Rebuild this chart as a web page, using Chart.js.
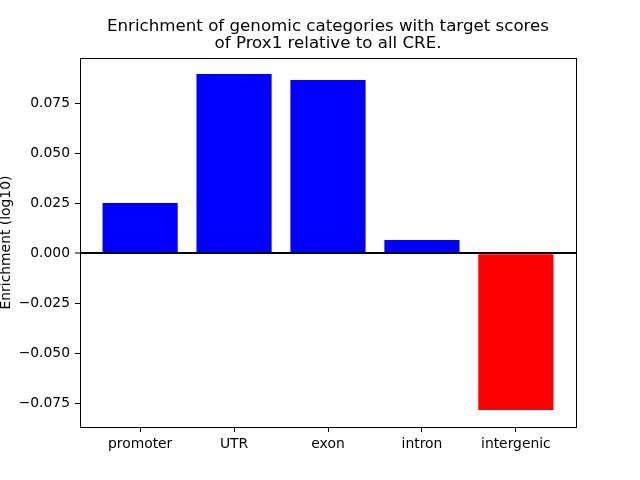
<!DOCTYPE html>
<html><head><meta charset="utf-8">
<script src="https://cdn.jsdelivr.net/npm/chart.js@4"></script>
<style>html,body{margin:0;padding:0;background:#fff}</style>
</head><body>
<canvas id="c" width="640" height="480"></canvas>
<script>
const categories = ['promoter', 'UTR', 'exon', 'intron', 'intergenic'];
const enrichment = [0.0252, 0.0897, 0.0867, 0.0067, -0.0784];
const yTicks = [-0.075, -0.05, -0.025, 0, 0.025, 0.05, 0.075];
const titleLines = ['Enrichment of genomic categories with target scores', 'of Prox1 relative to all CRE.'];
const yLabel = 'Enrichment (log10)';
const posColor = '#0000ff';
const negColor = '#ff0000';

Chart.defaults.font.family = 'DejaVu Sans';
Chart.defaults.color = '#000';

const framePlugin = {
  id: 'frame',
  afterDraw(chart) {
    const a = chart.chartArea, ctx = chart.ctx;
    ctx.save();
    ctx.strokeStyle = '#000';
    ctx.lineWidth = 1;
    ctx.strokeRect(Math.round(a.left) + 0.5, Math.round(a.top) + 0.5,
      Math.round(a.right - a.left), Math.round(a.bottom - a.top));
    ctx.restore();
  }
};

new Chart(document.getElementById('c'), {
  type: 'bar',
  data: {
    datasets: [{
      data: categories.map((c, i) => ({ x: i, y: enrichment[i] })),
      backgroundColor: enrichment.map(v => v >= 0 ? posColor : negColor),
      borderWidth: 0,
      categoryPercentage: 1.0,
      barPercentage: 0.8
    }]
  },
  options: {
    responsive: false,
    animation: false,
    devicePixelRatio: 1,
    layout: { padding: { left: 16, right: 0, top: 0, bottom: 0 } },
    plugins: {
      legend: { display: false },
      tooltip: { enabled: false },
      title: {
        display: true,
        text: titleLines,
        color: '#000',
        font: { family: 'DejaVu Sans', size: 16.67, weight: 'normal', lineHeight: 1.02 },
        padding: { top: 18.5, bottom: 5.5 }
      }
    },
    scales: {
      x: {
        type: 'linear',
        min: -0.64,
        max: 4.64,
        offset: false,
        afterBuildTicks: s => { s.ticks = categories.map((c, i) => ({ value: i })); },
        afterFit: s => { s.height = 53; },
        ticks: {
          autoSkip: false, maxRotation: 0, padding: 4,
          font: { size: 13.89 }, color: '#000',
          callback: v => categories[v] !== undefined ? categories[v] : ''
        },
        grid: { offset: false, drawOnChartArea: false, drawTicks: true, tickLength: 5, tickColor: '#000', tickWidth: 1 },
        border: { display: false }
      },
      y: {
        type: 'linear',
        position: 'left',
        min: -0.0869,
        max: 0.0977,
        afterBuildTicks: s => { s.ticks = yTicks.map(v => ({ value: v })); },
        afterFit: s => { s.width = 64; },
        ticks: {
          padding: 5, font: { size: 13.89 }, color: '#000',
          callback: v => Math.abs(v) < 1e-9 ? '0.000' : (v < 0 ? '\u2212' : '') + Math.abs(v).toFixed(3)
        },
        grid: {
          drawOnChartArea: true, drawTicks: true, tickLength: 5,
          color: c => (c.tick && Math.abs(c.tick.value) < 1e-9) ? '#000' : 'rgba(0,0,0,0)',
          lineWidth: c => (c.tick && Math.abs(c.tick.value) < 1e-9) ? 2 : 1,
          tickColor: '#000', tickWidth: 1
        },
        border: { display: false },
        title: {
          display: true, text: yLabel, color: '#000',
          font: { size: 13.89 },
          padding: { top: -18.3, bottom: 0 }
        }
      },
      yR: {
        type: 'linear',
        position: 'right',
        display: true,
        afterFit: s => { s.width = 64; },
        ticks: { display: false },
        grid: { display: false },
        border: { display: false }
      }
    }
  },
  plugins: [framePlugin]
});
</script>
</body></html>
